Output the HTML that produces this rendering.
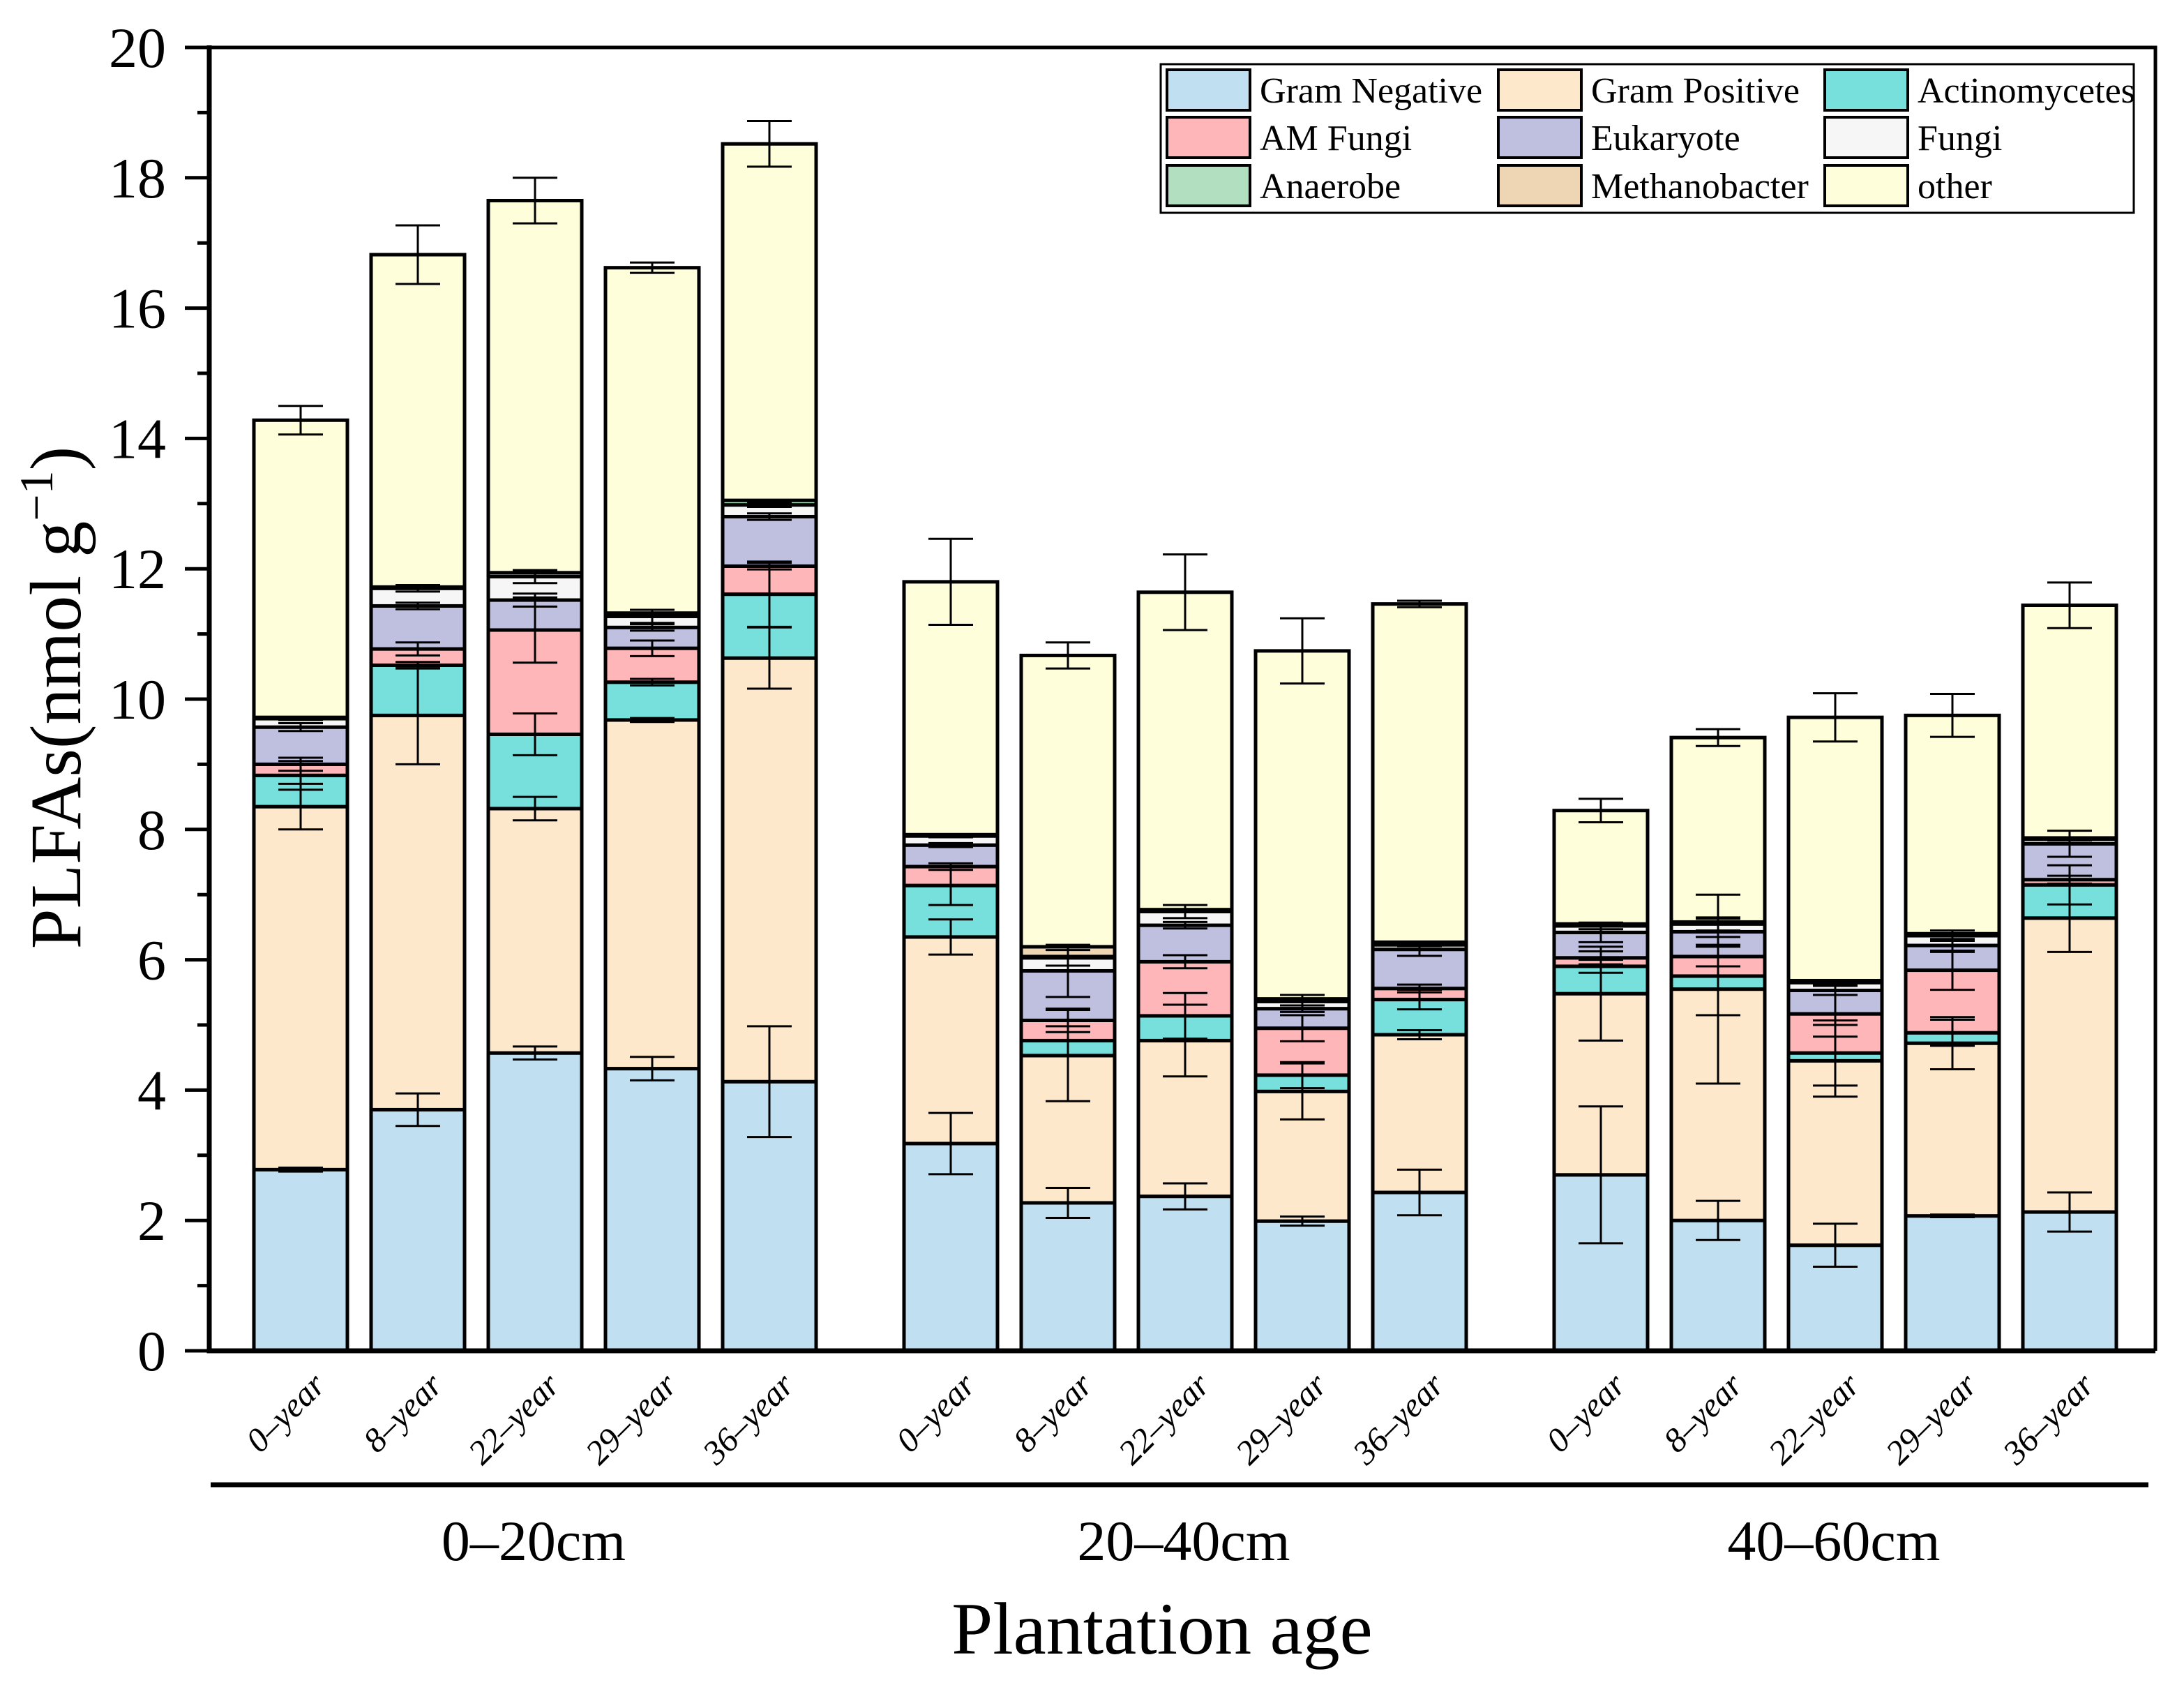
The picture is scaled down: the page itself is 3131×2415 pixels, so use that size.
<!DOCTYPE html>
<html><head><meta charset="utf-8"><style>
html,body{margin:0;padding:0;background:#fff}
svg{display:block}
text{font-family:"Liberation Serif",serif;fill:#000}
</style></head><body>
<svg id="chart" width="3131" height="2415" viewBox="0 0 3131 2415" xmlns="http://www.w3.org/2000/svg">
<g id="bars"></g>
<g id="errs"></g>
<g id="axes"></g>
<g id="legend"></g>
</svg>
<script>
const groups = ["0–20cm","20–40cm","40–60cm"];
const ages = ["0–year","8–year","22–year","29–year","36–year"];
const seriesNames = ["Gram Negative","Gram Positive","Actinomycetes","AM Fungi","Eukaryote","Fungi","Anaerobe","Methanobacter","other"];
const seriesColors = ["#c0dff1","#fee8cc","#77dfdc","#ffb6b8","#bfbfe0","#f6f6f6","#b1dfbf","#eed6b4","#fffedb"];
const gramNeg  = [2.78,3.70,4.57,4.33,4.13, 3.18,2.27,2.37,1.99,2.43, 2.70,2.00,1.62,2.07,2.13];
const gramPos  = [5.57,6.05,3.75,5.35,6.50, 3.17,2.26,2.39,1.99,2.42, 2.78,3.55,2.83,2.65,4.51];
const actino   = [0.48,0.77,1.14,0.58,0.98, 0.79,0.23,0.38,0.25,0.54, 0.42,0.20,0.12,0.16,0.51];
const amFungi  = [0.17,0.25,1.60,0.52,0.43, 0.29,0.31,0.83,0.72,0.17, 0.13,0.30,0.60,0.96,0.08];
const eukaryote= [0.57,0.66,0.46,0.32,0.76, 0.33,0.76,0.56,0.30,0.60, 0.39,0.38,0.36,0.38,0.55];
const fungi    = [0.13,0.27,0.36,0.17,0.18, 0.14,0.20,0.21,0.11,0.07, 0.10,0.12,0.12,0.15,0.07];
const anaerobe = [0.02,0.02,0.06,0.05,0.07, 0.02,0.02,0.03,0.04,0.04, 0.03,0.03,0.03,0.03,0.02];
const methano  = [0.00,0.00,0.00,0.00,0.00, 0.00,0.15,0.00,0.00,0.00, 0.00,0.00,0.00,0.00,0.00];
const other    = [4.56,5.10,5.71,5.30,5.47, 3.88,4.47,4.87,5.34,5.19, 1.74,2.83,4.04,3.35,3.57];
const errGN    = [0.03,0.25,0.10,0.18,0.85, 0.47,0.23,0.20,0.07,0.35, 1.05,0.30,0.33,0.02,0.30];
const errGP    = [0.35,0.75,0.18,0.03,0.47, 0.27,0.70,0.55,0.43,0.07, 0.72,1.45,0.55,0.40,0.52];
const errAct   = [0.22,0.05,0.32,0.05,0.50, 0.30,0.22,0.35,0.20,0.15, 0.10,0.60,0.50,0.20,0.30];
const errAM    = [0.10,0.10,0.50,0.12,0.05, 0.05,0.18,0.10,0.20,0.06, 0.10,0.15,0.35,0.30,0.06];
const errEuk   = [0.06,0.05,0.10,0.05,0.05, 0.03,0.40,0.05,0.05,0.10, 0.15,0.20,0.07,0.10,0.20];
const errFungi = [0.02,0.05,0.10,0.10,0.03, 0.02,0.12,0.10,0.10,0.02, 0.05,0.10,0.02,0.08,0.02];
const errOther = [0.22,0.45,0.35,0.08,0.35, 0.66,0.20,0.58,0.50,0.05, 0.18,0.13,0.37,0.33,0.35];
const yTicks = [0,2,4,6,8,10,12,14,16,18,20];

const NS="http://www.w3.org/2000/svg";
const X0=300, X1=3090, Y0=1936, Y1=68, YMAX=20;
const y = v => Y0 - v/YMAX*(Y0-Y1);
const barW=134;
const xBar = (g,i) => 364 + g*932 + i*168;
function el(tag, attrs, parent){const e=document.createElementNS(NS,tag);for(const k in attrs)e.setAttribute(k,attrs[k]);parent.appendChild(e);return e;}
const bars=document.getElementById('bars'), errs=document.getElementById('errs'), axes=document.getElementById('axes'), leg=document.getElementById('legend');
const series=[gramNeg,gramPos,actino,amFungi,eukaryote,fungi,anaerobe,methano,other];
const errs_=[errGN,errGP,errAct,errAM,errEuk,errFungi,null,null,errOther];

for(let b=0;b<15;b++){
  const g=Math.floor(b/5), i=b%5, x=xBar(g,i);
  let cum=0;
  series.forEach((s,k)=>{
    const v=s[b]; if(v<=0) return;
    const r=el('rect',{x:x,y:y(cum+v),width:barW,height:y(cum)-y(cum+v),fill:seriesColors[k],stroke:'#000','stroke-width':5},bars);
    
    
    cum+=v;
    const e=errs_[k];
    if(e){
      const cx=x+barW/2, top=cum;
      const p=el('path',{d:`M${cx},${y(top+e[b])}V${y(top-e[b])}M${cx-32},${y(top+e[b])}h64M${cx-32},${y(top-e[b])}h64`,stroke:'#000','stroke-width':3,fill:'none'},errs);
      
      
    }
  });
  const t=el('text',{x:0,y:0,'font-size':49,'font-style':'italic','text-anchor':'end',transform:`translate(${x+barW/2+38},${1988}) rotate(-45)`},axes);
  t.textContent=ages[i];
  
  
}
el('path',{d:`M${X0},${Y1}H${X1}V${Y0}`,stroke:'#000','stroke-width':5,fill:'none'},axes);
el('path',{d:`M${X0},${Y1-3}V${Y0}H${X1}`,stroke:'#000','stroke-width':7,fill:'none'},axes);
yTicks.forEach(v=>{
  el('line',{x1:265,x2:X0,y1:y(v),y2:y(v),stroke:'#000','stroke-width':5},axes);
  if(v<20) el('line',{x1:283,x2:X0,y1:y(v+1),y2:y(v+1),stroke:'#000','stroke-width':5},axes);
  const t=el('text',{x:238,y:y(v)+28,'font-size':82,'text-anchor':'end'},axes);
  t.textContent=v;
  
  
});
el('line',{x1:302,x2:3080,y1:2128,y2:2128,stroke:'#000','stroke-width':7},axes);
groups.forEach((gname,g)=>{
  const t=el('text',{x:xBar(g,2)+barW/2-2,y:2236,'font-size':82,'text-anchor':'middle'},axes);
  t.textContent=gname;
  
  
});
const xt=el('text',{x:1666,y:2370,'font-size':106,'text-anchor':'middle'},axes);
xt.textContent='Plantation age';


const yt=el('text',{x:0,y:0,'font-size':104,'text-anchor':'middle',transform:'translate(115,1000) rotate(-90)'},axes);
yt.innerHTML='PLFAs(nmol g<tspan dy="-40" font-size="68">−1</tspan><tspan dy="40">)</tspan>';


el('rect',{x:1664,y:92,width:1395,height:213,fill:'#fff',stroke:'#000','stroke-width':3},leg);
const colX=[1673,2148,2616], rowY=[100,168,237];
seriesNames.forEach((n,k)=>{
  const cx=colX[k%3], ry=rowY[Math.floor(k/3)];
  const r=el('rect',{x:cx,y:ry,width:119,height:58,fill:seriesColors[k],stroke:'#000','stroke-width':4},leg);
  
  
  const t=el('text',{x:cx+133,y:ry+47,'font-size':52},leg);
  t.textContent=n;
  
  
});
</script>
</body></html>
